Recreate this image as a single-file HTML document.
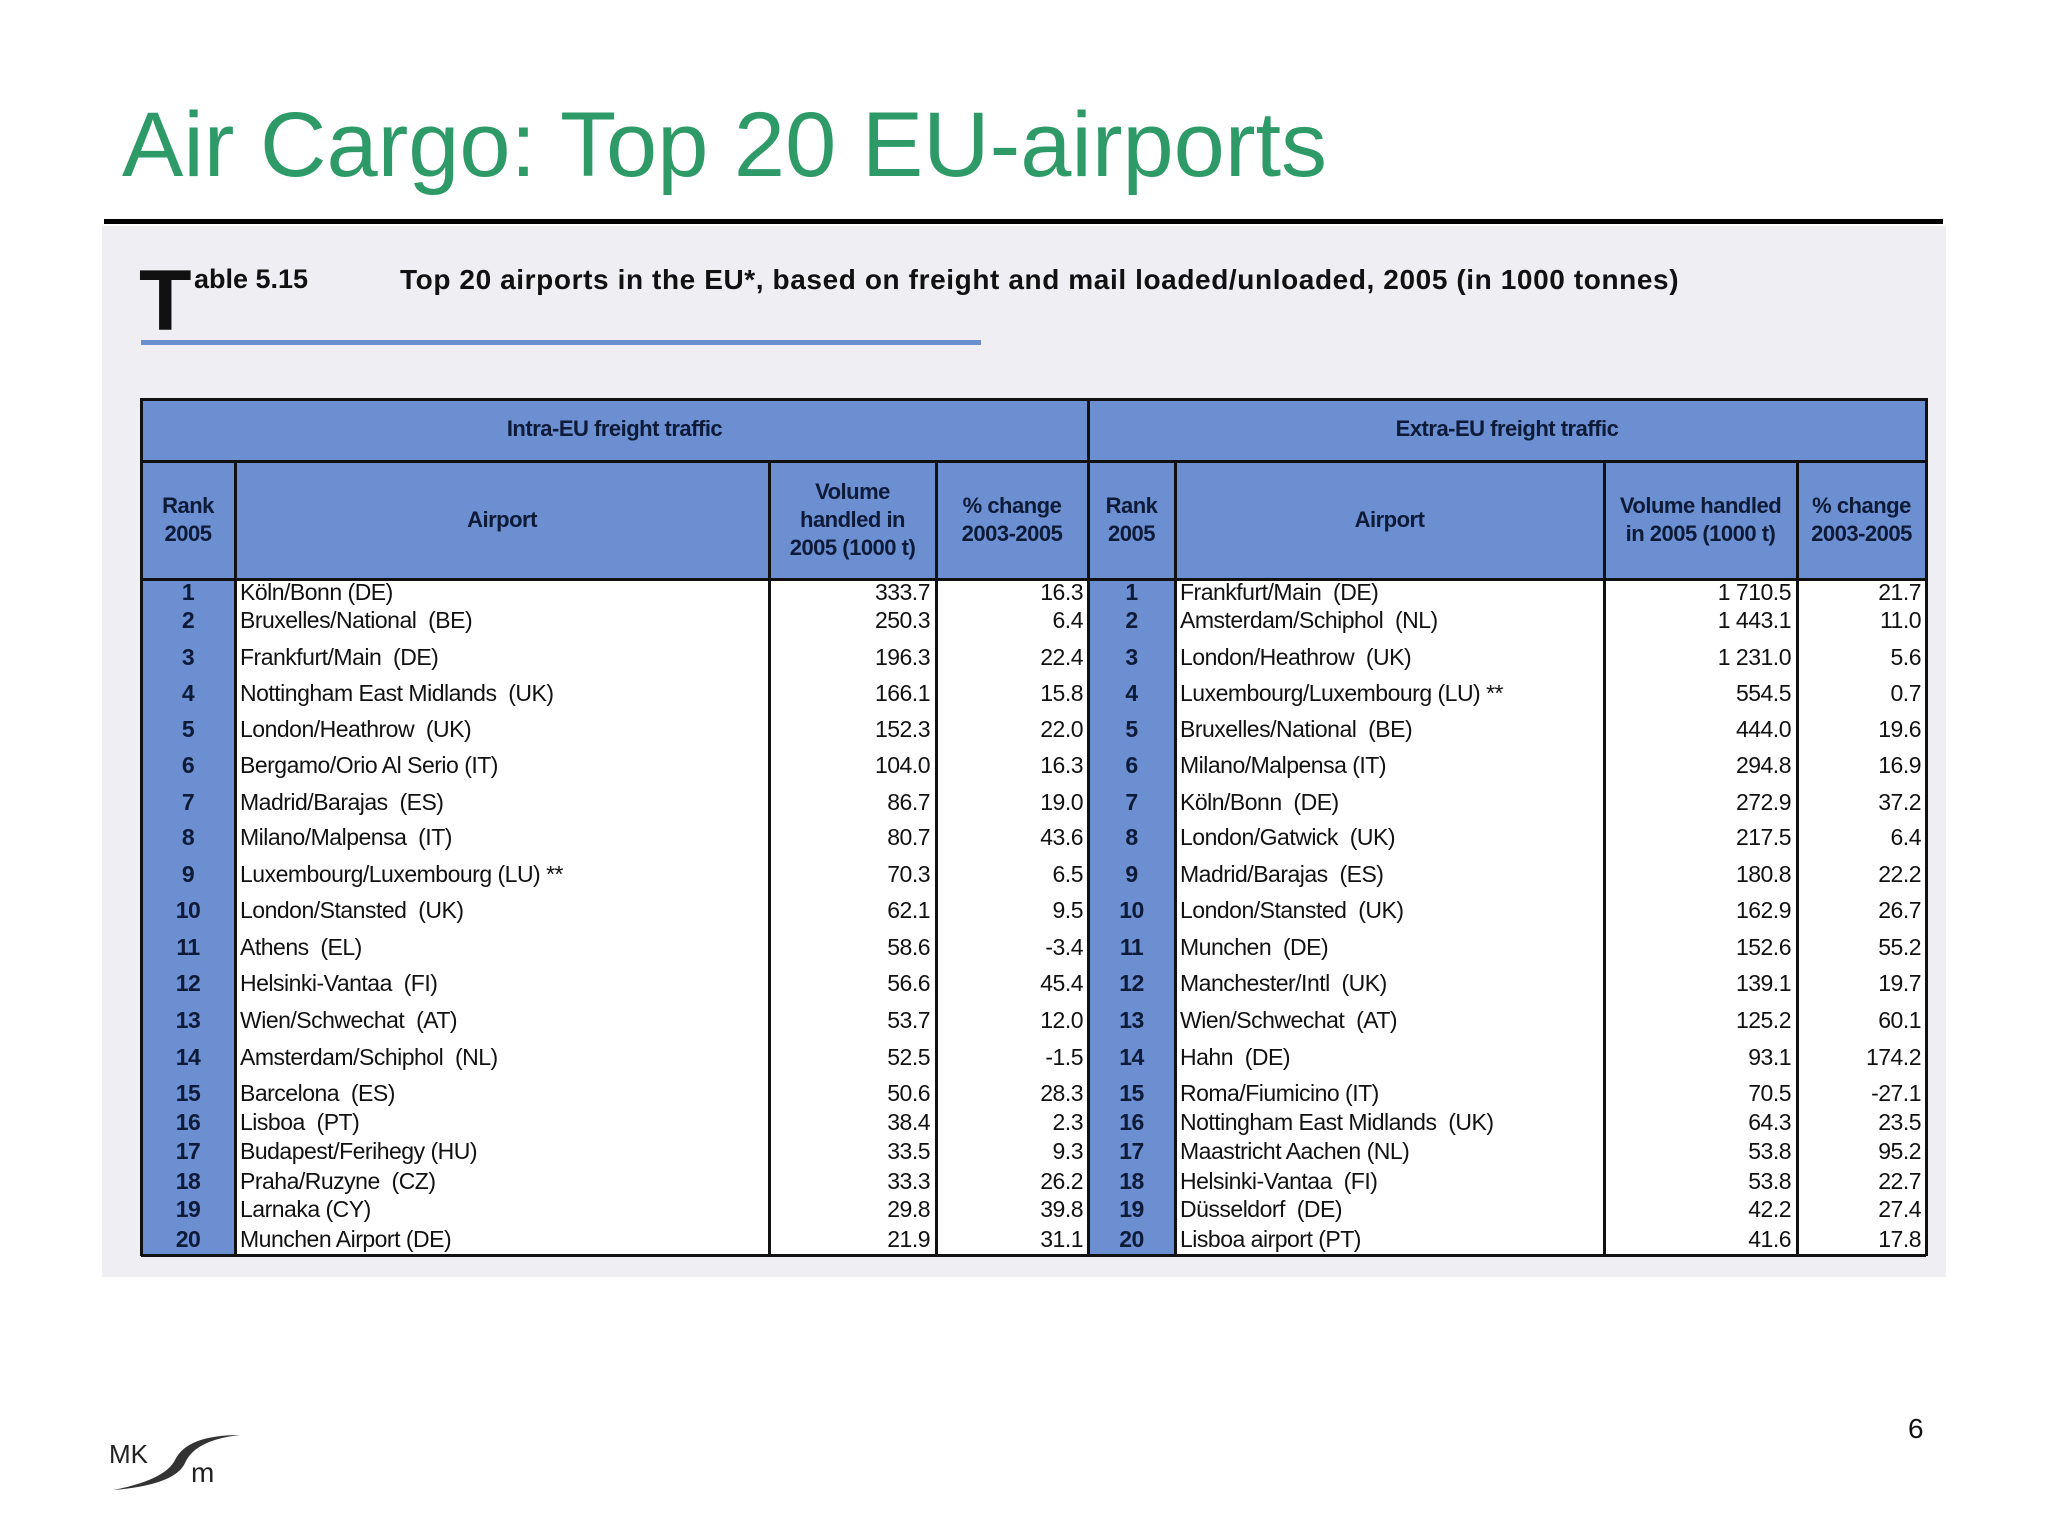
<!DOCTYPE html>
<html><head><meta charset="utf-8">
<style>
body{margin:0;width:2048px;height:1536px;background:#fff;position:relative;overflow:hidden;font-family:"Liberation Sans",sans-serif;}
.abs{position:absolute;}
.cell{position:absolute;font-size:23px;color:#111;white-space:pre;letter-spacing:-0.5px;line-height:26px;}
.hd{position:absolute;font-weight:bold;font-size:22px;color:#0d1a38;text-align:center;display:flex;align-items:center;justify-content:center;line-height:28px;letter-spacing:-0.5px;}
</style></head><body>
<div class="abs" style="left:122px;top:93px;font-size:92px;color:#2e9a68;">Air Cargo: Top 20 EU-airports</div>
<div class="abs" style="left:104px;top:219px;width:1839px;height:5px;background:#000"></div>
<div class="abs" style="left:102px;top:226px;width:1844px;height:1051px;background:#eeeef3"></div>
<div class="abs" style="left:139px;top:252px;font-size:86px;font-weight:bold;color:#111;">T</div>
<div class="abs" style="left:194px;top:264px;font-size:27px;font-weight:bold;color:#111;">able 5.15</div>
<div class="abs" style="left:400px;top:264px;font-size:28px;font-weight:bold;color:#111;letter-spacing:0.6px;">Top 20 airports in the EU*, based on freight and mail loaded/unloaded, 2005 (in 1000 tonnes)</div>
<div class="abs" style="left:141px;top:340px;width:840px;height:5px;background:#6b8fd0"></div>
<div id="tbl" class="abs" style="left:0;top:0;width:2048px;height:1536px;"></div>
<div class="abs" style="left:1908px;top:1413px;font-size:28px;color:#111;">6</div>
<svg class="abs" style="left:105px;top:1425px" width="140" height="70">
<text x="4" y="38" font-family="Liberation Sans" font-size="26" fill="#222">MK</text>
<path d="M8 65 Q60 55 70 35 Q82 10 135 10 Q90 15 80 38 Q70 60 8 65Z" fill="#333"/>
<text x="86" y="57" font-family="Liberation Sans" font-size="28" fill="#222">m</text>
</svg>
<script>
const ranks=[1,2,3,4,5,6,7,8,9,10,11,12,13,14,15,16,17,18,19,20];
const intraAirports=["Köln/Bonn (DE)","Bruxelles/National  (BE)","Frankfurt/Main  (DE)","Nottingham East Midlands  (UK)","London/Heathrow  (UK)","Bergamo/Orio Al Serio (IT)","Madrid/Barajas  (ES)","Milano/Malpensa  (IT)","Luxembourg/Luxembourg (LU) **","London/Stansted  (UK)","Athens  (EL)","Helsinki-Vantaa  (FI)","Wien/Schwechat  (AT)","Amsterdam/Schiphol  (NL)","Barcelona  (ES)","Lisboa  (PT)","Budapest/Ferihegy (HU)","Praha/Ruzyne  (CZ)","Larnaka (CY)","Munchen Airport (DE)"];
const intraVolume=["333.7","250.3","196.3","166.1","152.3","104.0","86.7","80.7","70.3","62.1","58.6","56.6","53.7","52.5","50.6","38.4","33.5","33.3","29.8","21.9"];
const intraChange=["16.3","6.4","22.4","15.8","22.0","16.3","19.0","43.6","6.5","9.5","-3.4","45.4","12.0","-1.5","28.3","2.3","9.3","26.2","39.8","31.1"];
const extraAirports=["Frankfurt/Main  (DE)","Amsterdam/Schiphol  (NL)","London/Heathrow  (UK)","Luxembourg/Luxembourg (LU) **","Bruxelles/National  (BE)","Milano/Malpensa (IT)","Köln/Bonn  (DE)","London/Gatwick  (UK)","Madrid/Barajas  (ES)","London/Stansted  (UK)","Munchen  (DE)","Manchester/Intl  (UK)","Wien/Schwechat  (AT)","Hahn  (DE)","Roma/Fiumicino (IT)","Nottingham East Midlands  (UK)","Maastricht Aachen (NL)","Helsinki-Vantaa  (FI)","Düsseldorf  (DE)","Lisboa airport (PT)"];
const extraVolume=["1 710.5","1 443.1","1 231.0","554.5","444.0","294.8","272.9","217.5","180.8","162.9","152.6","139.1","125.2","93.1","70.5","64.3","53.8","53.8","42.2","41.6"];
const extraChange=["21.7","11.0","5.6","0.7","19.6","16.9","37.2","6.4","22.2","26.7","55.2","19.7","60.1","174.2","-27.1","23.5","95.2","22.7","27.4","17.8"];
const rowCenters=[592,620,657,693,729,765,802,837,874,910,947,983,1020,1057,1093,1122,1151,1181,1209,1239];
const cols=[141,235,769,936,1088,1175,1604,1797,1926];
const T=document.getElementById('tbl');
function box(x,y,w,h,bg,name){const d=document.createElement('div');d.className='abs';d.style.cssText=`left:${x}px;top:${y}px;width:${w}px;height:${h}px;background:${bg}`;


T.appendChild(d);return d;}
const top0=398,h1=460,h2=579,bot=1256;
box(cols[0],top0,cols[8]-cols[0],h2-top0,'#6b8fd0','header-band');
box(cols[0],h2,cols[8]-cols[0],bot-h2,'#fff','body-band');
box(cols[0],h2,cols[1]-cols[0],bot-h2,'#6b8fd0','intra-rank-column');
box(cols[4],h2,cols[5]-cols[4],bot-h2,'#6b8fd0','extra-rank-column');
[top0,h1,h2-1,bot-2].forEach((y,i)=>box(cols[0],y,cols[8]-cols[0],3,'#111','h-rule'));
cols.forEach((x,i)=>{const y=(i===0||i===4||i===8)?top0:h1;box(x-1,y,3,bot-y,'#111','v-rule');});
function hd(x1,x2,y1,y2,html,name){const d=document.createElement('div');d.className='hd';d.style.cssText=`left:${x1}px;top:${y1}px;width:${x2-x1}px;height:${y2-y1}px`;d.innerHTML=html;


T.appendChild(d);}
hd(cols[0],cols[4],top0,h1,'Intra-EU freight traffic','intra-eu-header');
hd(cols[4],cols[8],top0,h1,'Extra-EU freight traffic','extra-eu-header');
const sub=['Rank<br>2005','Airport','Volume<br>handled in<br>2005 (1000 t)','% change<br>2003-2005','Rank<br>2005','Airport','Volume handled<br>in 2005 (1000 t)','% change<br>2003-2005'];
sub.forEach((s,i)=>hd(cols[i],cols[i+1],h1,h2,s,'column-header'));
function cell(txt,x,y,align,w,bold,name){const d=document.createElement('div');d.className='cell';
d.style.cssText=`left:${x}px;top:${y-13}px;width:${w}px;text-align:${align};${bold?'font-weight:bold;color:#0d1a38':''}`;d.textContent=txt;


T.appendChild(d);}
ranks.forEach((r,i)=>{const y=rowCenters[i];
cell(String(r),cols[0],y,'center',cols[1]-cols[0],true,'intra-rank');
cell(intraAirports[i],cols[1]+5,y,'left',420,false,'intra-airport');
cell(intraVolume[i],cols[2],y,'right',cols[3]-cols[2]-6,false,'intra-volume');
cell(intraChange[i],cols[3],y,'right',cols[4]-cols[3]-5,false,'intra-change');
cell(String(r),cols[4],y,'center',cols[5]-cols[4],true,'extra-rank');
cell(extraAirports[i],cols[5]+5,y,'left',420,false,'extra-airport');
cell(extraVolume[i],cols[6],y,'right',cols[7]-cols[6]-6,false,'extra-volume');
cell(extraChange[i],cols[7],y,'right',cols[8]-cols[7]-5,false,'extra-change');});
</script>
</body></html>
